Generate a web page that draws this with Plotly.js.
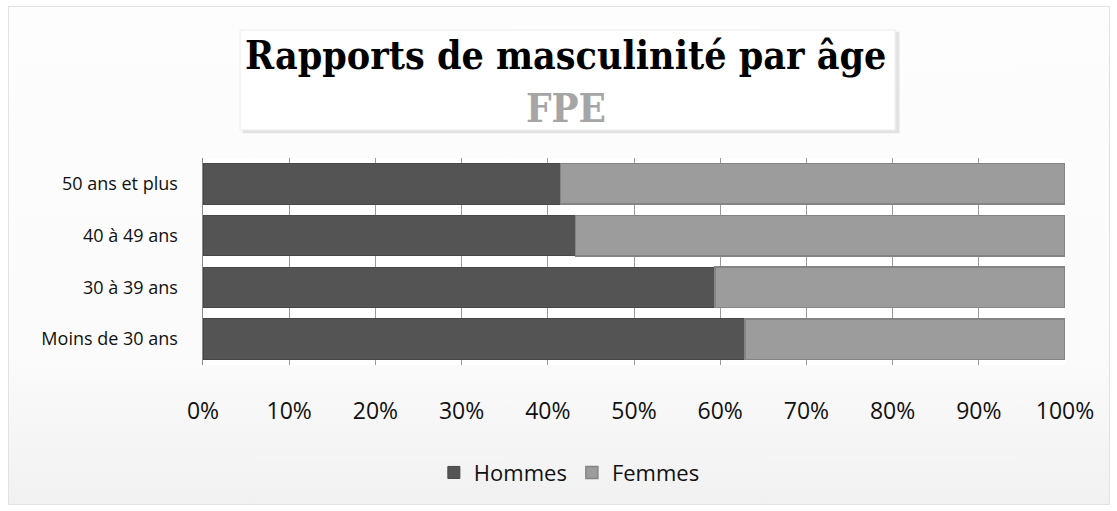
<!DOCTYPE html>
<html><head><meta charset="utf-8">
<script src="https://cdn.plot.ly/plotly-3.0.1.min.js"></script>
<style>
html,body{margin:0;padding:0;background:#fff;}
#frame{position:absolute;left:8px;top:6px;width:1100px;height:497px;border:1px solid #e2e2e2;background:linear-gradient(#fdfdfd 0%,#fbfbfb 70%,#f1f1f1 100%);}
#chart{position:absolute;left:0;top:0;width:1117px;height:511px;}
</style></head>
<body>
<div id="frame"></div>
<div id="chart"></div>
<script>
const categories = ["Moins de 30 ans", "30 à 39 ans", "40 à 49 ans", "50 ans et plus"];
const hommes = [0.629, 0.594, 0.432, 0.415];
const femmes = [0.371, 0.406, 0.568, 0.585];
const tickVals = [0,0.1,0.2,0.3,0.4,0.5,0.6,0.7,0.8,0.9,1];
const tickLabels = ["0%","10%","20%","30%","40%","50%","60%","70%","80%","90%","100%"];

const traces = [
  {type:'bar', orientation:'h', name:'Hommes', y:categories, x:hommes,
   marker:{color:'#545454', line:{color:'#474747', width:1}}},
  {type:'bar', orientation:'h', name:'Femmes', y:categories, x:femmes,
   marker:{color:'#9c9c9c', line:{color:'#848484', width:1.5}}}
];

const layout = {
  width:1117, height:511,
  paper_bgcolor:'rgba(0,0,0,0)', plot_bgcolor:'#ffffff',
  margin:{l:203, r:52, t:158, b:146},
  barmode:'stack', bargap:0.22,
  showlegend:true,
  legend:{orientation:'h', x:0.425, xanchor:'center', y:-0.52, yanchor:'middle',
          font:{family:'Open Sans, sans-serif', size:22, color:'#111'}, traceorder:'normal',
          itemwidth:30},
  xaxis:{range:[0,1], tickvals:tickVals, ticktext:tickLabels, showgrid:true, gridcolor:'#9a9a9a',
         gridwidth:1, zeroline:false, showline:false, ticks:'', ticklabelstandoff:30,
         tickfont:{family:'Open Sans, sans-serif', size:23, color:'#111'}, fixedrange:true},
  yaxis:{showline:true, linecolor:'#8a8a8a', linewidth:1.5, showgrid:false, ticks:'',
         ticklabelstandoff:20,
         tickfont:{family:'Open Sans, sans-serif', size:18, color:'#111'}, fixedrange:true},
  shapes:[
    {type:'rect', xref:'paper', yref:'paper', x0:0.046, x1:0.808, y0:1.12, y1:1.61,
     fillcolor:'rgba(0,0,0,0.10)', line:{width:0}, layer:'below'},
    {type:'rect', xref:'paper', yref:'paper', x0:0.043, x1:0.803, y0:1.135, y1:1.618,
     fillcolor:'#ffffff', line:{color:'#ececec', width:1}, layer:'below'}
  ],
  annotations:[
    {xref:'paper', yref:'paper', x:0.421, y:1.50, xanchor:'center', yanchor:'middle', showarrow:false,
     text:'<b>Rapports de masculinité par âge</b>',
     font:{family:'DejaVu Serif Condensed, Liberation Serif, serif', size:39, color:'#000'}},
    {xref:'paper', yref:'paper', x:0.421, y:1.245, xanchor:'center', yanchor:'middle', showarrow:false,
     text:'<b>FPE</b>',
     font:{family:'DejaVu Serif Condensed, Liberation Serif, serif', size:40, color:'#a5a5a5'}}
  ]
};

Plotly.newPlot('chart', traces, layout, {displayModeBar:false, staticPlot:true});
</script>
</body></html>
